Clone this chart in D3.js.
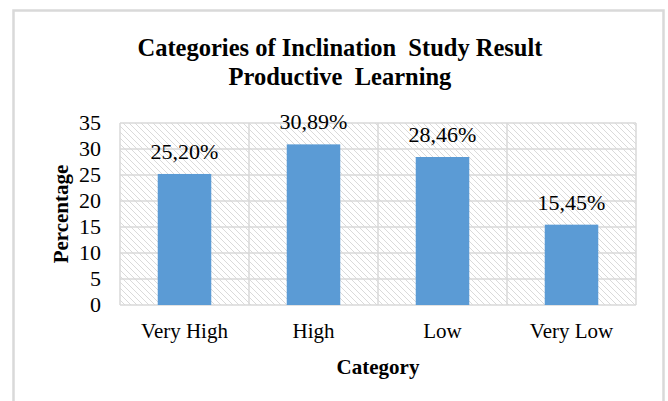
<!DOCTYPE html>
<html>
<head>
<meta charset="utf-8">
<script src="https://cdn.jsdelivr.net/npm/d3@7"></script>
<style>
  body { margin: 0; background: #ffffff; }
  svg text { font-family: 'Liberation Serif', 'DejaVu Serif', serif; fill: #000000; white-space: pre; }
</style>
</head>
<body>
<div id="plot"></div>
<script>
var width = 668;
var height = 401;
var serif = "'Liberation Serif', 'DejaVu Serif', serif";

// data
var categories = ['Very High', 'High', 'Low', 'Very Low'];
var values = [25.20, 30.89, 28.46, 15.45];
var value_labels = ['25,20%', '30,89%', '28,46%', '15,45%'];
var y_ticks = [0, 5, 10, 15, 20, 25, 30, 35];
var title_lines = ['Categories of Inclination  Study Result', 'Productive  Learning'];

var margin = {left: 120, right: 32, top: 123, bottom: 96};

var canvas = d3.select('#plot')
    .append('svg')
    .attr('width', width)
    .attr('height', height);

// hatch pattern for the plot area
var defs = canvas.append('defs');
var pattern = defs.append('pattern')
    .attr('id', 'hatch')
    .attr('patternUnits', 'userSpaceOnUse')
    .attr('width', 6)
    .attr('height', 6);
pattern.append('rect')
    .attr('width', 6)
    .attr('height', 6)
    .attr('fill', '#ffffff');
pattern.append('path')
    .attr('d', 'M0,0 L6,6 M-1,5 L1,7 M5,-1 L7,1')
    .attr('stroke', '#d0d0d0')
    .attr('stroke-width', 0.8);

// chart border
canvas.append('rect')
    .attr('x', 13.5)
    .attr('y', 10.5)
    .attr('width', 650)
    .attr('height', 420)
    .attr('fill', '#ffffff')
    .attr('stroke', '#d9d9d9')
    .attr('stroke-width', 2.5);

var x = d3.scaleBand()
    .domain(categories)
    .range([margin.left, width - margin.right])
    .padding(0);

var y = d3.scaleLinear()
    .domain([0, 35])
    .range([height - margin.bottom, margin.top]);

var plot_w = x.range()[1] - x.range()[0];

// plot background
canvas.append('rect')
    .attr('x', margin.left)
    .attr('y', y(35))
    .attr('width', plot_w)
    .attr('height', y(0) - y(35))
    .attr('fill', 'url(#hatch)');

// horizontal gridlines
canvas.selectAll('line.hgrid')
    .data(y_ticks)
    .enter()
    .append('line')
    .attr('class', 'hgrid')
    .attr('x1', margin.left)
    .attr('x2', margin.left + plot_w)
    .attr('y1', function(d) { return y(d); })
    .attr('y2', function(d) { return y(d); })
    .attr('stroke', '#d9d9d9')
    .attr('stroke-width', 1.5);

// vertical gridlines at category boundaries
var bounds = categories.map(function(c) { return x(c); }).concat([margin.left + plot_w]);
canvas.selectAll('line.vgrid')
    .data(bounds)
    .enter()
    .append('line')
    .attr('class', 'vgrid')
    .attr('x1', function(d) { return d; })
    .attr('x2', function(d) { return d; })
    .attr('y1', y(35))
    .attr('y2', y(0))
    .attr('stroke', '#d9d9d9')
    .attr('stroke-width', 1.5);

// bars
var bar_w = x.bandwidth() * 0.415;
canvas.selectAll('rect.bar')
    .data(values)
    .enter()
    .append('rect')
    .attr('class', 'bar')
    .attr('x', function(d, i) { return x(categories[i]) + (x.bandwidth() - bar_w) / 2; })
    .attr('y', function(d) { return y(d); })
    .attr('width', bar_w)
    .attr('height', function(d) { return y(0) - y(d); })
    .attr('fill', '#5b9bd5');

// value labels
canvas.selectAll('text.value')
    .data(values)
    .enter()
    .append('text')
    .attr('class', 'value')
    .attr('font-family', serif)
    .attr('text-anchor', 'middle')
    .attr('font-size', 20)
    .attr('transform', function(d, i) {
        return 'translate(' + (x(categories[i]) + x.bandwidth() / 2) + ',' + (y(d) - 15) + ') scale(1.1,1)';
    })
    .text(function(d, i) { return value_labels[i]; });

// y tick labels
canvas.selectAll('text.ytick')
    .data(y_ticks)
    .enter()
    .append('text')
    .attr('class', 'ytick')
    .attr('font-family', serif)
    .attr('text-anchor', 'end')
    .attr('font-size', 20)
    .attr('dy', '0.34em')
    .attr('transform', function(d) { return 'translate(101,' + y(d) + ') scale(1.1,1)'; })
    .text(function(d) { return d; });

// x tick labels
canvas.selectAll('text.xtick')
    .data(categories)
    .enter()
    .append('text')
    .attr('class', 'xtick')
    .attr('font-family', serif)
    .attr('text-anchor', 'middle')
    .attr('font-size', 21)
    .attr('x', function(d) { return x(d) + x.bandwidth() / 2; })
    .attr('y', 338)
    .text(function(d) { return d; });

// axis titles
canvas.append('text')
    .attr('font-family', serif)
    .attr('text-anchor', 'middle')
    .attr('font-size', 21)
    .attr('font-weight', 'bold')
    .attr('x', margin.left + plot_w / 2)
    .attr('y', 374)
    .text('Category');

canvas.append('text')
    .attr('font-family', serif)
    .attr('text-anchor', 'middle')
    .attr('font-size', 21)
    .attr('font-weight', 'bold')
    .attr('transform', 'translate(68,' + ((y(0) + y(35)) / 2) + ') rotate(-90)')
    .text('Percentage');

// title
canvas.selectAll('text.title')
    .data(title_lines)
    .enter()
    .append('text')
    .attr('class', 'title')
    .attr('font-family', serif)
    .attr('text-anchor', 'middle')
    .attr('font-size', 24.5)
    .attr('font-weight', 'bold')
    .attr('x', 340)
    .attr('y', function(d, i) { return 56 + i * 29; })
    .text(function(d) { return d; });
</script>
</body>
</html>
